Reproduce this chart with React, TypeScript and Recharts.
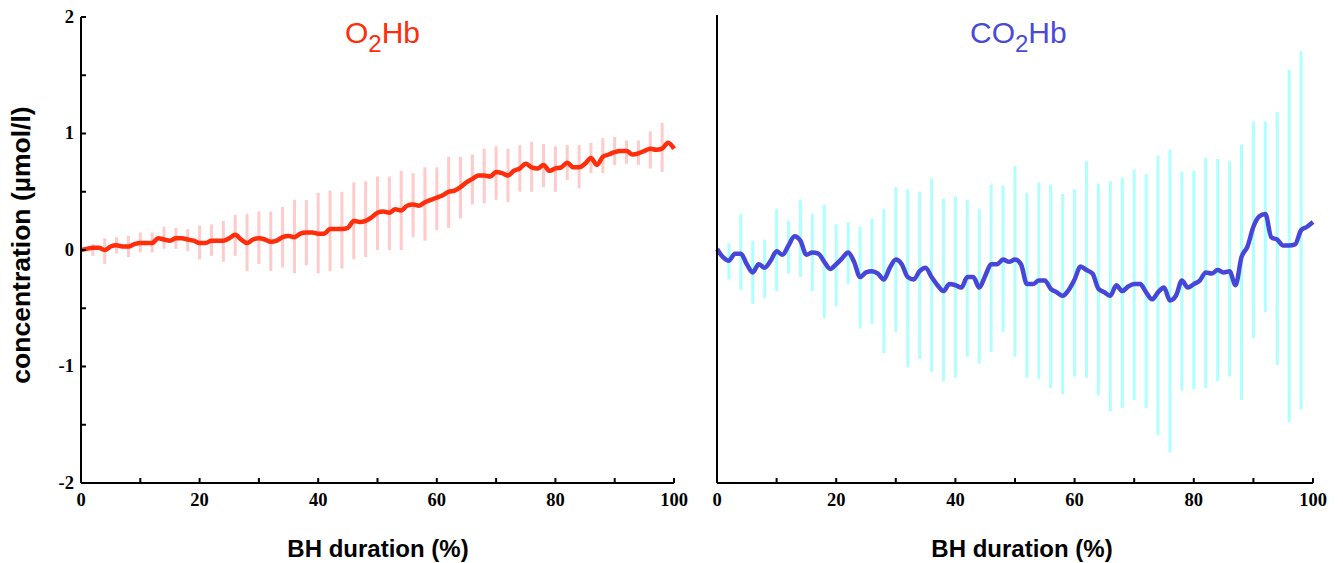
import React from "react";
import { ComposedChart, Line, Scatter, ErrorBar, XAxis, YAxis } from "recharts";

// mean curves, one value per 1 % of BH duration (0..100)
const o2Mean = [
  0.0, 0.01, 0.02, 0.02, 0.0, 0.03, 0.04, 0.03, 0.03, 0.05,
  0.06, 0.06, 0.06, 0.1, 0.09, 0.08, 0.1, 0.1, 0.09, 0.08,
  0.06, 0.06, 0.08, 0.08, 0.08, 0.1, 0.13, 0.09, 0.06, 0.09,
  0.1, 0.09, 0.07, 0.08, 0.11, 0.12, 0.11, 0.14, 0.15, 0.15,
  0.14, 0.14, 0.18, 0.18, 0.18, 0.19, 0.25, 0.24, 0.25, 0.28,
  0.32, 0.33, 0.32, 0.35, 0.34, 0.38, 0.39, 0.38, 0.41, 0.43,
  0.45, 0.47, 0.5, 0.51, 0.54, 0.58, 0.61, 0.64, 0.64, 0.63,
  0.67, 0.66, 0.64, 0.68, 0.7, 0.74, 0.71, 0.7, 0.73, 0.68,
  0.7, 0.71, 0.75, 0.71, 0.71, 0.74, 0.79, 0.73, 0.8, 0.82,
  0.84, 0.85, 0.85, 0.82, 0.83, 0.85, 0.87, 0.86, 0.87, 0.92,
  0.87,
];

const co2Mean = [
  0.0, -0.07, -0.1, -0.04, -0.04, -0.13, -0.2, -0.13, -0.16, -0.1,
  -0.02, -0.05, 0.03, 0.11, 0.07, -0.05, -0.03, -0.04, -0.11, -0.17,
  -0.13, -0.08, -0.03, -0.11, -0.24, -0.2, -0.19, -0.21, -0.26, -0.16,
  -0.09, -0.13, -0.24, -0.26, -0.19, -0.16, -0.24, -0.31, -0.36, -0.3,
  -0.31, -0.33, -0.24, -0.24, -0.33, -0.23, -0.13, -0.13, -0.09, -0.11,
  -0.09, -0.13, -0.3, -0.3, -0.27, -0.27, -0.34, -0.37, -0.4, -0.35,
  -0.26, -0.15, -0.18, -0.21, -0.34, -0.37, -0.4, -0.31, -0.36, -0.32,
  -0.3, -0.3, -0.37, -0.43, -0.37, -0.33, -0.44, -0.4, -0.27, -0.33,
  -0.3, -0.27, -0.2, -0.21, -0.18, -0.2, -0.19, -0.31, -0.07, 0.02,
  0.19, 0.28, 0.3, 0.1, 0.08, 0.03, 0.03, 0.04, 0.16, 0.19,
  0.23,
];

// error bars at 2, 4, ... 98 %
const o2Low = [
  -0.05, -0.12, -0.03, -0.06, -0.02, -0.02, 0.01, 0.01, -0.01, -0.08,
  -0.05, -0.1, -0.05, -0.18, -0.12, -0.18, -0.15, -0.2, -0.13, -0.2,
  -0.18, -0.16, -0.08, -0.06, 0.0, 0.0, 0.0, 0.11, 0.08, 0.17,
  0.19, 0.27, 0.39, 0.4, 0.43, 0.41, 0.5, 0.5, 0.54, 0.5,
  0.6, 0.53, 0.66, 0.66, 0.73, 0.74, 0.73, 0.7, 0.67,
];
const o2High = [
  0.05, 0.1, 0.11, 0.12, 0.15, 0.15, 0.2, 0.19, 0.18, 0.21,
  0.22, 0.25, 0.3, 0.31, 0.33, 0.33, 0.37, 0.43, 0.43, 0.49,
  0.51, 0.5, 0.58, 0.59, 0.63, 0.63, 0.68, 0.66, 0.71, 0.71,
  0.8, 0.8, 0.82, 0.87, 0.89, 0.87, 0.9, 0.93, 0.91, 0.89,
  0.9, 0.9, 0.92, 0.96, 0.97, 0.94, 0.94, 1.02, 1.09,
];
const co2Low = [
  -0.26, -0.35, -0.47, -0.42, -0.36, -0.21, -0.24, -0.36, -0.59, -0.49,
  -0.3, -0.68, -0.64, -0.89, -0.71, -1.01, -0.94, -1.05, -1.13, -1.1,
  -0.92, -0.98, -0.88, -0.71, -0.92, -1.1, -1.11, -1.19, -1.24, -1.09,
  -1.1, -1.25, -1.39, -1.36, -1.29, -1.36, -1.59, -1.74, -1.21, -1.2,
  -1.19, -1.13, -1.09, -1.29, -0.76, -0.54, -0.99, -1.48, -1.37,
];
const co2High = [
  0.05, 0.3, 0.07, 0.08, 0.34, 0.24, 0.42, 0.3, 0.38, 0.21,
  0.23, 0.19, 0.26, 0.34, 0.53, 0.51, 0.49, 0.6, 0.43, 0.45,
  0.42, 0.34, 0.55, 0.54, 0.71, 0.48, 0.57, 0.55, 0.47, 0.51,
  0.75, 0.56, 0.58, 0.61, 0.68, 0.64, 0.8, 0.85, 0.66, 0.67,
  0.78, 0.77, 0.75, 0.89, 1.09, 1.09, 1.17, 1.53, 1.69,
];

const xTicks = [0, 10, 20, 30, 40, 50, 60, 70, 80, 90, 100];
const yTicks = [-2, -1.5, -1, -0.5, 0, 0.5, 1, 1.5, 2];

const lineRows = (vals: number[]) => vals.map((y, i) => ({ x: i, y }));
const barRows = (lo: number[], hi: number[]) =>
  lo.map((l, i) => ({ x: 2 * (i + 1), y: l, err: [0, hi[i] - l] }));

const serif = "'Liberation Serif', 'Times New Roman', serif";
const sans = "'Liberation Sans', Arial, sans-serif";

const XTick = (p: any) =>
  p.payload.value % 20 === 0 ? (
    <text
      x={p.x}
      y={p.y + 28}
      textAnchor="middle"
      fontFamily={serif}
      fontWeight="bold"
      fontSize={18.5}
      fill="#000"
    >
      {p.payload.value}
    </text>
  ) : (
    <g />
  );

const YTick = (p: any) =>
  Number.isInteger(p.payload.value) ? (
    <text
      x={p.x - 12}
      y={p.y + 5.5}
      textAnchor="end"
      fontFamily={serif}
      fontWeight="bold"
      fontSize={18.5}
      fill="#000"
    >
      {p.payload.value}
    </text>
  ) : (
    <g />
  );

const axisStyle = { stroke: "#000", strokeWidth: 2 };

interface PanelProps {
  mean: number[];
  low: number[];
  high: number[];
  lineColor: string;
  barColor: string;
  margin: { top: number; right: number; bottom: number; left: number };
  labels: boolean;
}

const Panel = ({ mean, low, high, lineColor, barColor, margin, labels }: PanelProps) => (
  <ComposedChart width={700} height={563} margin={margin}>
    <XAxis
      type="number"
      dataKey="x"
      domain={[0, 100]}
      ticks={xTicks}
      height={30}
      axisLine={axisStyle}
      tickLine={axisStyle}
      tickSize={-5}
      tickMargin={0}
      tick={<XTick />}
      interval={0}
    />
    <YAxis
      type="number"
      domain={[-2, 2]}
      ticks={yTicks}
      width={30}
      axisLine={axisStyle}
      tickLine={axisStyle}
      tickSize={-5}
      tickMargin={0}
      tick={labels ? <YTick /> : false}
      interval={0}
    />
    <Scatter
      data={barRows(low, high)}
      dataKey="y"
      shape={() => <g />}
      isAnimationActive={false}
    >
      <ErrorBar dataKey="err" direction="y" width={0} stroke={barColor} strokeWidth={3} />
    </Scatter>
    <Line
      data={lineRows(mean)}
      dataKey="y"
      type="monotone"
      stroke={lineColor}
      strokeWidth={4.5}
      dot={false}
      isAnimationActive={false}
    />
  </ComposedChart>
);

export default function App() {
  return (
    <div style={{ position: "absolute", left: 0, top: 0, width: 1343, height: 563, background: "#fff" }}>
      <div style={{ position: "absolute", left: 0, top: 0 }}>
        <Panel
          mean={o2Mean}
          low={o2Low}
          high={o2High}
          lineColor="#ff2d0a"
          barColor="#ffcaca"
          margin={{ top: 17, right: 26, bottom: 50, left: 51 }}
          labels
        />
      </div>
      <div style={{ position: "absolute", left: 640, top: 0 }}>
        <Panel
          mean={co2Mean}
          low={co2Low}
          high={co2High}
          lineColor="#4646d8"
          barColor="#b0ffff"
          margin={{ top: 15, right: 27, bottom: 50, left: 47 }}
          labels={false}
        />
      </div>
      <svg
        width={1343}
        height={563}
        style={{ position: "absolute", left: 0, top: 0, pointerEvents: "none" }}
      >
        <text x={345} y={43} fontFamily={sans} fontSize={30} fill="#ff2d0a">
          O<tspan dy={9} fontSize={24}>2</tspan>
          <tspan dy={-9}>Hb</tspan>
        </text>
        <text x={970} y={43} fontFamily={sans} fontSize={30} fill="#4a4ad8">
          CO<tspan dy={9} fontSize={24}>2</tspan>
          <tspan dy={-9}>Hb</tspan>
        </text>
        <text
          transform="translate(30,245) rotate(-90)"
          textAnchor="middle"
          fontFamily={sans}
          fontWeight="bold"
          fontSize={26.5}
          fill="#000"
        >
          concentration (µmol/l)
        </text>
        <text x={378} y={557} textAnchor="middle" fontFamily={sans} fontWeight="bold" fontSize={24} fill="#000">
          BH duration (%)
        </text>
        <text x={1022} y={557} textAnchor="middle" fontFamily={sans} fontWeight="bold" fontSize={24} fill="#000">
          BH duration (%)
        </text>
      </svg>
    </div>
  );
}
